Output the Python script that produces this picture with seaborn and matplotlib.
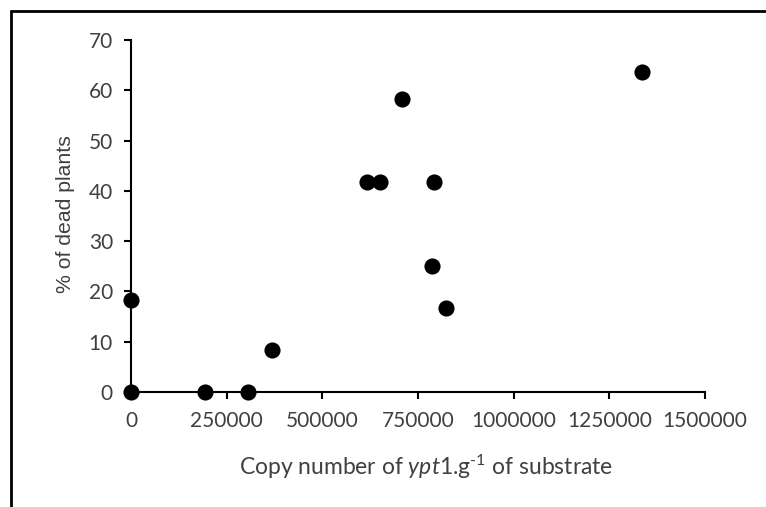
import matplotlib
matplotlib.use("Agg")
import matplotlib.pyplot as plt
import seaborn as sns
import pandas as pd
from matplotlib.lines import Line2D

copy_number = [0, 0, 193000, 306000, 368000, 616000, 651000, 707000, 786000, 792000, 822000, 1336000]
dead_pct = [18.2, 0, 0, 0, 8.3, 41.7, 41.7, 58.3, 25.0, 41.7, 16.7, 63.6]
x_ticks = [0, 250000, 500000, 750000, 1000000, 1250000, 1500000]
y_ticks = [0, 10, 20, 30, 40, 50, 60, 70]

df = pd.DataFrame({"copy": copy_number, "dead": dead_pct})

sns.set_style("white")
plt.rcParams['font.family'] = ['Lato', 'DejaVu Sans']
plt.rcParams['mathtext.fontset'] = 'custom'
plt.rcParams['mathtext.rm'] = 'Lato'
plt.rcParams['mathtext.it'] = 'Lato:italic'

fig = plt.figure(figsize=(7.66, 5.07), dpi=100)
ax = fig.add_axes([131/766, 1-392/507, (705-131)/766, (392-40)/507])

sns.scatterplot(data=df, x="copy", y="dead", ax=ax, color="black", s=135,
                edgecolor="black", linewidth=0, zorder=3, clip_on=False)

ax.set_xlim(0, 1500000)
ax.set_ylim(0, 70)
ax.set_xticks(x_ticks)
ax.set_xticklabels([str(v) for v in x_ticks])
ax.set_yticks(y_ticks)
ax.set_yticklabels([str(v) for v in y_ticks])

for side in ["top", "right"]:
    ax.spines[side].set_visible(False)
for side in ["left", "bottom"]:
    ax.spines[side].set_linewidth(1.5)
    ax.spines[side].set_color("black")

ax.tick_params(axis="both", direction="out", length=5, width=1.5, color="black",
               labelsize=15, labelcolor="#404040", left=True, bottom=True)
ax.tick_params(axis="x", pad=9)
ax.tick_params(axis="y", pad=8)

ax.set_xlabel("Copy number of $\\mathit{ypt1}$.g$^{\\text{-1}}$ of substrate",
              fontsize=16.5, color="#404040")
ax.xaxis.set_label_coords(0.514, -0.172)
ax.set_ylabel("% of dead plants", fontsize=15.3, color="#404040",
              family=['Liberation Sans', 'DejaVu Sans'])
ax.yaxis.set_label_coords(-0.098, 0.505)

fig.add_artist(Line2D([11/766, 11/766], [0, 1-11/507], transform=fig.transFigure,
                      color="black", linewidth=2))
fig.add_artist(Line2D([11/766, 1], [1-11/507, 1-11/507], transform=fig.transFigure,
                      color="black", linewidth=2))

fig.savefig("out.png", dpi=100)
